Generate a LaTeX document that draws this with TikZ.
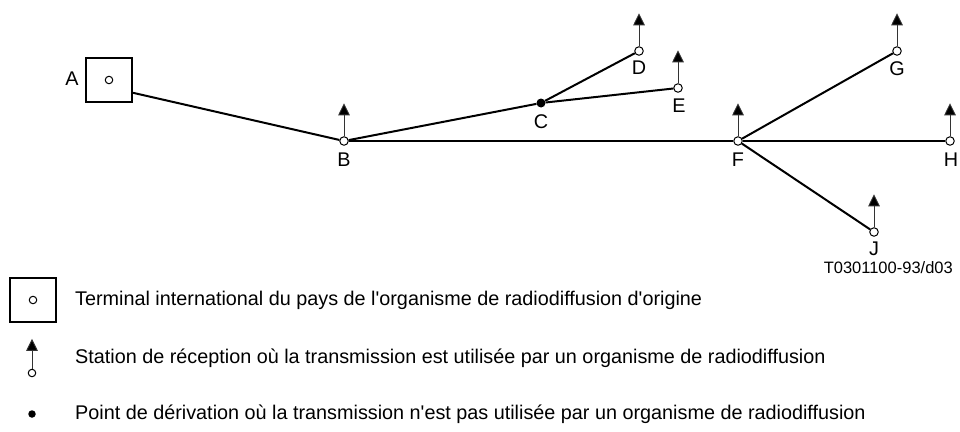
\documentclass[tikz,border=0pt]{standalone}
\usepackage{fontspec}
\setmainfont{Liberation Sans}[Ligatures=TeXOff]
\usetikzlibrary{arrows.meta}
\begin{document}
\begin{tikzpicture}[x=1pt,y=-1pt,
  stn/.style={circle,draw,fill=white,line width=1pt,inner sep=0pt,minimum size=8.5pt},
  branch/.style={circle,fill=black,inner sep=0pt,minimum size=9pt},
  term/.style={draw,line width=2.2pt,inner sep=0pt,minimum width=46pt,minimum height=44pt},
  termdot/.style={circle,draw,line width=1pt,inner sep=0pt,minimum size=7.5pt},
  link/.style={line width=2pt},
  rx/.style={line width=0.9pt,draw=black!80,-{Triangle[length=12pt,width=11.5pt,fill=black]}},
  lbl/.style={font=\fontsize{19.8}{23}\selectfont,inner sep=0pt},
  leg/.style={font=\fontsize{19.8}{23}\selectfont,inner sep=0pt,anchor=west},
  ref/.style={font=\fontsize{16.5}{20}\selectfont,inner sep=0pt,anchor=east}
]
\useasboundingbox (0,0) rectangle (960,431);

% network nodes
\node[term] (A) at (109,80) {};
\node[termdot] (Ac) at (109,80) {};
\node[stn] (B) at (344,141) {};
\node[branch] (C) at (541,103) {};
\node[stn] (D) at (639,51) {};
\node[stn] (E) at (678,88) {};
\node[stn] (F) at (738,141) {};
\node[stn] (G) at (897,51) {};
\node[stn] (H) at (950,141) {};
\node[stn] (J) at (874,232) {};

% links
\draw[link] (A.-28) -- (B);
\draw[link] (B) -- (F);
\draw[link] (F) -- (H);
\draw[link] (B) -- (C);
\draw[link] (C) -- (E);
\draw[link] (C) -- (D);
\draw[link] (F) -- (G);
\draw[link] (F) -- (J);

% reception arrows
\foreach \n in {B,D,E,F,G,H,J}
  \draw[rx] (\n.north) -- ++(0,-33);

% labels
\node[lbl] (lA) at (72,79) {A};
\node[lbl] (lB) at (344,160) {B};
\node[lbl] (lC) at (541,122) {C};
\node[lbl] (lD) at (639,68) {D};
\node[lbl] (lE) at (679,106) {E};
\node[lbl] (lF) at (738,160) {F};
\node[lbl] (lG) at (897,69) {G};
\node[lbl] (lH) at (951,160) {H};
\node[lbl] (lJ) at (874,249) {J};
\node[ref] (refno) at (953,268) {T0301100-93/d03};

% legend
\node[term] (k1) at (33,300) {};
\node[termdot] (k1c) at (33,300) {};
\node[leg] (t1) at (75,300) {Terminal international du pays de l'organisme de radiodiffusion d'origine};

\node[stn,minimum size=7.5pt] (k2) at (32,373) {};
\draw[rx] (k2.north) -- ++(0,-30);
\node[leg] (t2) at (75,358) {Station de réception où la transmission est utilisée par un organisme de radiodiffusion};

\node[branch,minimum size=7.5pt] (k3) at (32,414) {};
\node[leg] (t3) at (75,414) {Point de dérivation où la transmission n'est pas utilisée par un organisme de radiodiffusion};
\end{tikzpicture}
\end{document}
